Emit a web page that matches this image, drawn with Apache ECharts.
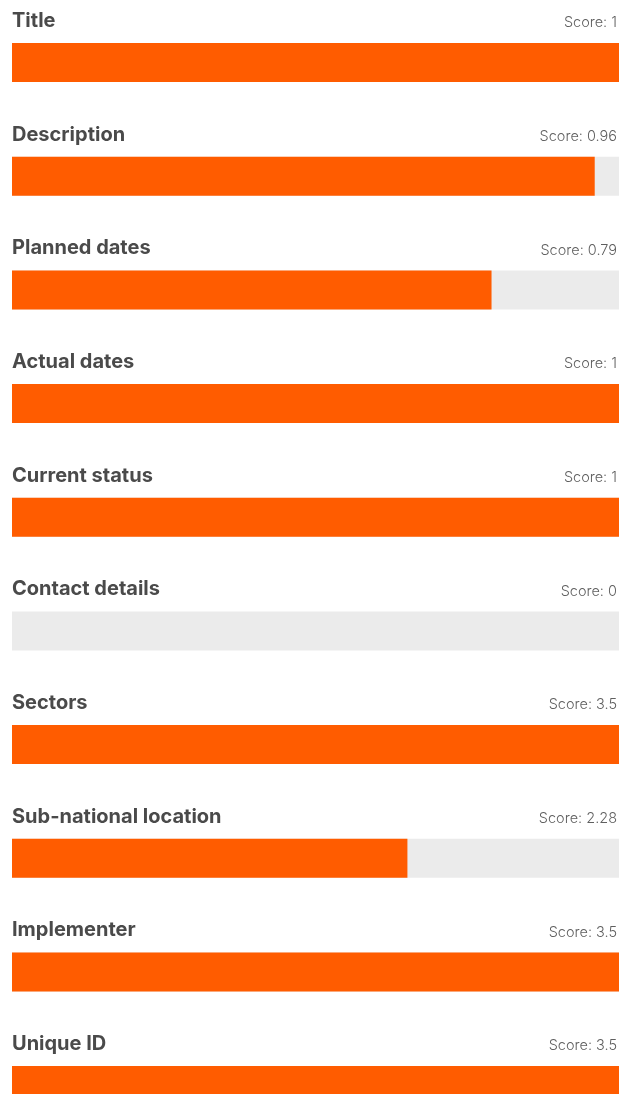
<!DOCTYPE html>
<html>
<head>
<meta charset="utf-8">
<style>
  html, body { margin: 0; padding: 0; background: #fff; overflow: hidden; }
  #chart { width: 629px; height: 1143px; }
</style>
<script src="https://cdn.jsdelivr.net/npm/echarts@6/dist/echarts.min.js"></script>
</head>
<body>
<div id="chart"></div>
<script>
var fields = ['Title', 'Description', 'Planned dates', 'Actual dates', 'Current status',
    'Contact details', 'Sectors', 'Sub-national location', 'Implementer', 'Unique ID'];
var scores = [1, 0.96, 0.79, 1, 1, 0, 3.5, 2.28, 3.5, 3.5];
var maxScores = [1, 1, 1, 1, 1, 1, 3.5, 3.5, 3.5, 3.5];

var ratios = scores.map(function (s, i) { return s / maxScores[i]; });
var full = fields.map(function () { return 1; });

// the div is taller than the window on purpose: the last row is cut off like in the original
var myChart = echarts.init(document.getElementById('chart'));
var option = {
    animation: false,
    grid: { left: 12, right: 10, top: 5.7, bottom: 0.6 },
    xAxis: { type: 'value', min: 0, max: 1, show: false },
    yAxis: {
        type: 'category',
        data: fields,
        inverse: true,
        show: false
    },
    series: [
        {
            // grey track, carries the field name
            type: 'bar',
            data: full,
            barWidth: 39,
            barGap: '-100%',
            silent: true,
            itemStyle: { color: '#ebebeb' },
            label: {
                show: true,
                position: [0, -22],
                align: 'left',
                verticalAlign: 'middle',
                formatter: function (p) { return p.name; },
                fontFamily: 'Inter',
                fontWeight: 'bold',
                fontSize: 20,
                color: '#4a4a4a'
            }
        },
        {
            // score text, right side
            type: 'bar',
            data: full,
            barWidth: 39,
            barGap: '-100%',
            silent: true,
            itemStyle: { color: 'rgba(0,0,0,0)' },
            label: {
                show: true,
                position: ['100%', -20],
                align: 'right',
                verticalAlign: 'middle',
                offset: [-2, 0],
                formatter: function (p) { return 'Score: ' + scores[p.dataIndex]; },
                fontFamily: 'Inter',
                fontWeight: 300,
                fontSize: 14.5,
                color: '#5f5f5f'
            }
        },
        {
            type: 'bar',
            data: ratios,
            barWidth: 39,
            barGap: '-100%',
            itemStyle: { color: '#ff5c00' }
        }
    ]
};
myChart.setOption(option);
</script>
</body>
</html>
